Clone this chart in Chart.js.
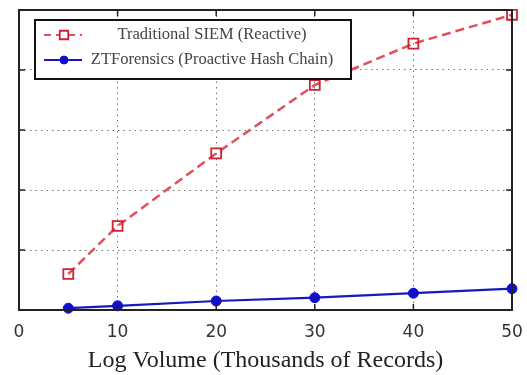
<!DOCTYPE html>
<html>
<head>
<meta charset="utf-8">
<script src="https://cdn.jsdelivr.net/npm/chart.js@4.4.1/dist/chart.umd.min.js"></script>
<style>
  html, body { margin: 0; padding: 0; background: #fff; }
  #wrap { width: 527px; height: 375px; position: relative; }
</style>
</head>
<body>
<div id="wrap"><canvas id="chart"></canvas></div>
<script>
// values (y has no labels in the original)
const volumes = [5, 10, 20, 30, 40, 50];
const siemValues = [60, 140, 261, 375, 444, 492];
const ztfValues = [3, 7, 15, 20.5, 28, 35.5];
const xTicks = [0, 10, 20, 30, 40, 50];
const seriesNames = ['Traditional SIEM (Reactive)', 'ZTForensics (Proactive Hash Chain)'];
const xTitle = 'Log Volume (Thousands of Records)';

const toPoints = vals => vals.map((v, i) => ({ x: volumes[i], y: v }));

// frame + inner tick marks
const framePlugin = {
    id: 'frame',
    afterDatasetsDraw(chart) {
        const { ctx, chartArea: a, scales } = chart;
        ctx.save();
        ctx.strokeStyle = '#222';
        ctx.lineWidth = 1.5;
        ctx.beginPath();
        xTicks.slice(1, -1).forEach(t => {
            const px = scales.x.getPixelForValue(t);
            ctx.moveTo(px, a.top); ctx.lineTo(px, a.top + 6);
            ctx.moveTo(px, a.bottom); ctx.lineTo(px, a.bottom - 6);
        });
        [100, 200, 300, 400].forEach(t => {
            const py = scales.y.getPixelForValue(t);
            ctx.moveTo(a.left, py); ctx.lineTo(a.left + 6, py);
            ctx.moveTo(a.right, py); ctx.lineTo(a.right - 6, py);
        });
        ctx.stroke();
        ctx.lineWidth = 2;
        ctx.strokeRect(a.left, a.top, a.right - a.left, a.bottom - a.top);
        ctx.restore();
    }
};

// legend box drawn inside the plot
const boxLegend = {
    id: 'boxLegend',
    afterDraw(chart) {
        const { ctx, chartArea: a } = chart;
        const x0 = a.left + 16, y0 = a.top + 10, w = 316, h = 59;
        ctx.save();
        ctx.fillStyle = '#fff';
        ctx.fillRect(x0, y0, w, h);
        ctx.strokeStyle = '#111';
        ctx.lineWidth = 2;
        ctx.strokeRect(x0, y0, w, h);
        chart.data.datasets.forEach((ds, i) => {
            const y = y0 + 15 + i * 25;
            ctx.strokeStyle = ds.borderColor;
            ctx.lineWidth = 2;
            ctx.setLineDash(ds.borderDash ? [7, 5] : []);
            ctx.beginPath();
            ctx.moveTo(x0 + 9, y); ctx.lineTo(x0 + 47, y);
            ctx.stroke();
            ctx.setLineDash([]);
            ctx.lineWidth = ds.pointBorderWidth;
            ctx.strokeStyle = ds.pointBorderColor;
            ctx.fillStyle = ds.borderDash ? '#fff' : ds.pointBackgroundColor;
            Chart.helpers.drawPoint(ctx, { pointStyle: ds.pointStyle, radius: ds.pointRadius - 1, borderWidth: ds.pointBorderWidth }, x0 + 29, y);
            ctx.fillStyle = '#444';
            ctx.font = '16.5px "Liberation Serif", "Times New Roman", serif';
            ctx.textAlign = 'center';
            ctx.textBaseline = 'middle';
            ctx.fillText(ds.label, x0 + 177, y);
        });
        ctx.restore();
    }
};

new Chart(document.getElementById('chart'), {
    type: 'scatter',
    data: {
        datasets: [
            {
                label: seriesNames[0],
                data: toPoints(siemValues),
                showLine: true,
                borderColor: '#e0505c',
                borderWidth: 2.5,
                borderDash: [9, 5],
                pointStyle: 'rect',
                pointRadius: 7,
                pointBorderWidth: 1.8,
                pointBorderColor: '#cc2233',
                pointBackgroundColor: 'rgba(255,255,255,0)',
                clip: false
            },
            {
                label: seriesNames[1],
                data: toPoints(ztfValues),
                showLine: true,
                borderColor: '#1818bb',
                borderWidth: 2.2,
                pointStyle: 'circle',
                pointRadius: 5,
                pointBorderWidth: 1,
                pointBorderColor: '#1010cc',
                pointBackgroundColor: '#1010cc',
                clip: false
            }
        ]
    },
    options: {
        responsive: true,
        maintainAspectRatio: false,
        animation: false,
        layout: { padding: { left: 19, right: 15, top: 10, bottom: 0 } },
        plugins: { legend: { display: false }, tooltip: { enabled: false } },
        scales: {
            x: {
                type: 'linear',
                min: 0, max: 50,
                afterBuildTicks: s => { s.ticks = xTicks.map(v => ({ value: v })); },
                afterFit: s => { s.height = 65; s.paddingLeft = 0; s.paddingRight = 0; },
                grid: { color: '#777', lineWidth: 1, drawTicks: false },
                border: { display: false, dash: [1.5, 4] },
                ticks: {
                    color: '#333',
                    padding: 12,
                    font: { family: '"DejaVu Sans", Verdana, sans-serif', size: 17 }
                },
                title: {
                    display: true,
                    text: xTitle,
                    color: '#222',
                    padding: { top: 0, bottom: 0 },
                    font: { family: '"Liberation Serif", "Times New Roman", serif', size: 24, lineHeight: 1.2 }
                }
            },
            y: {
                min: 0, max: 500,
                ticks: { display: false, stepSize: 100 },
                grid: { color: '#777', lineWidth: 1, drawTicks: false },
                border: { display: false, dash: [1.5, 4] }
            }
        }
    },
    plugins: [framePlugin, boxLegend]
});
</script>
</body>
</html>
